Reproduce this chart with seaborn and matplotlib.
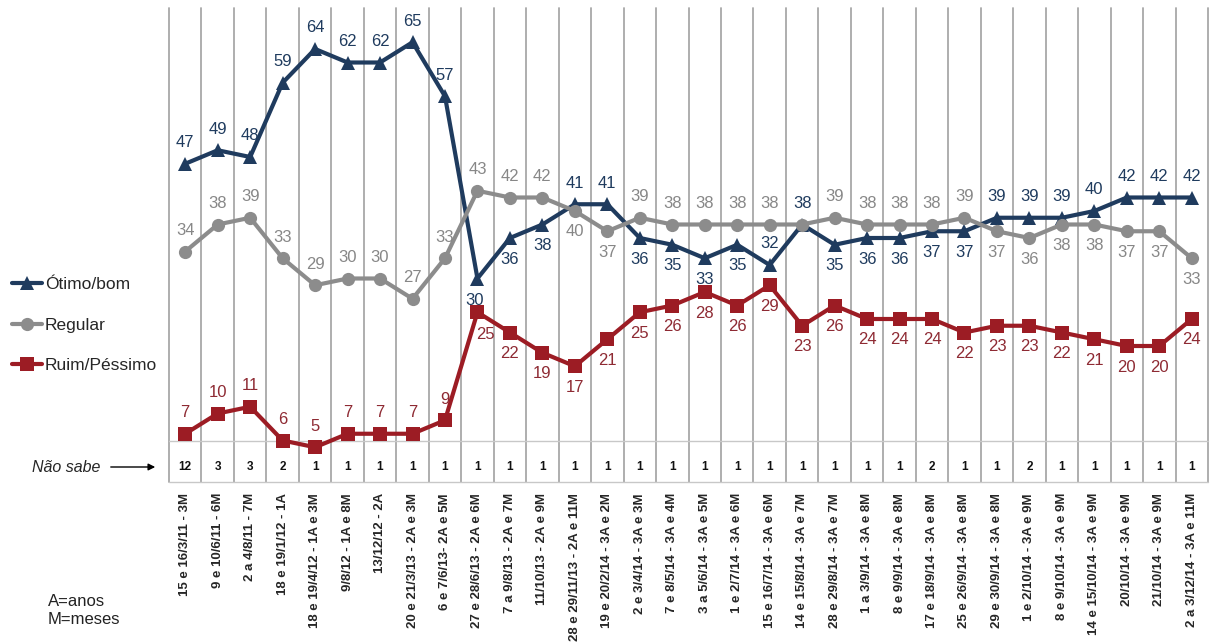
import numpy as np
import pandas as pd
import matplotlib
matplotlib.use("Agg")
import matplotlib.pyplot as plt
import matplotlib.transforms as mtransforms
from matplotlib.lines import Line2D
import seaborn as sns

# ---------------- data ----------------
periodos = [
    "15 e 16/3/11 - 3M", "9 e 10/6/11 - 6M", "2 a 4/8/11 - 7M", "18 e 19/1/12 - 1A",
    "18 e 19/4/12 - 1A e 3M", "9/8/12 - 1A e 8M", "13/12/12 - 2A", "20 e 21/3/13 - 2A e 3M",
    "6 e 7/6/13- 2A e 5M", "27 e 28/6/13 - 2A e 6M", "7 a 9/8/13 - 2A e 7M", "11/10/13 - 2A e 9M",
    "28 e 29/11/13 - 2A e 11M", "19 e 20/2/14 - 3A e 2M", "2 e 3/4/14 - 3A e 3M", "7 e 8/5/14 - 3A e 4M",
    "3 a 5/6/14 - 3A e 5M", "1 e 2/7/14 - 3A e 6M", "15 e 16/7/14 - 3A e 6M", "14 e 15/8/14 - 3A e 7M",
    "28 e 29/8/14 - 3A e 7M", "1 a 3/9/14 - 3A e 8M", "8 e 9/9/14 - 3A e 8M", "17 e 18/9/14 - 3A e 8M",
    "25 e 26/9/14 - 3A e 8M", "29 e 30/9/14 - 3A e 8M", "1 e 2/10/14 - 3A e 9M", "8 e 9/10/14 - 3A e 9M",
    "14 e 15/10/14 - 3A e 9M", "20/10/14 - 3A e 9M", "21/10/14 - 3A e 9M", "2 a 3/12/14 - 3A e 11M",
]
otimo_bom = [47, 49, 48, 59, 64, 62, 62, 65, 57, 30, 36, 38, 41, 41, 36, 35,
             33, 35, 32, 38, 35, 36, 36, 37, 37, 39, 39, 39, 40, 42, 42, 42]
regular = [34, 38, 39, 33, 29, 30, 30, 27, 33, 43, 42, 42, 40, 37, 39, 38,
           38, 38, 38, 38, 39, 38, 38, 38, 39, 37, 36, 38, 38, 37, 37, 33]
ruim_pessimo = [7, 10, 11, 6, 5, 7, 7, 7, 9, 25, 22, 19, 17, 21, 25, 26,
                28, 26, 29, 23, 26, 24, 24, 24, 22, 23, 23, 22, 21, 20, 20, 24]
nao_sabe = [12, 3, 3, 2, 1, 1, 1, 1, 1, 1, 1, 1, 1, 1, 1, 1,
            1, 1, 1, 1, 1, 1, 1, 2, 1, 1, 2, 1, 1, 1, 1, 1]
series_names = ["Ótimo/bom", "Regular", "Ruim/Péssimo"]

# label placement (A = above, B = below, - = none)
place_otimo = "AAAAAAAAABBBAABBBBAABBBBBAAAAAAA"
place_regular = "AAAAAAAAAAAABBAAAAA-AAAAABBBBBBB"
place_ruim = "AAAAAAAAABBBBBBBBBBBBBBBBBBBBBBB"

# ---------------- style ----------------
sns.set_theme(style="white")
plt.rcParams["font.family"] = ["Liberation Sans", "DejaVu Sans"]

W, H = 1210, 642
fig = plt.figure(figsize=(W / 100, H / 100), dpi=100)
ax_top, ax_bot, ax_left, ax_right = 8, 482, 169, 1208
ax = fig.add_axes([ax_left / W, 1 - ax_bot / H, (ax_right - ax_left) / W, (ax_bot - ax_top) / H])

line_colors = {"Ótimo/bom": "#1F3B5E", "Regular": "#8C8C8C", "Ruim/Péssimo": "#9C1C24"}
label_colors = {"Ótimo/bom": "#1F3B5E", "Regular": "#878787", "Ruim/Péssimo": "#8E2A33"}
markers = {"Ótimo/bom": "^", "Regular": "o", "Ruim/Péssimo": "s"}

n = len(periodos)
df = pd.DataFrame({
    "pos": np.tile(np.arange(n), 3),
    "valor": otimo_bom + regular + ruim_pessimo,
    "serie": np.repeat(series_names, n),
})

# vertical grid lines between periods
for b in np.arange(-0.5, n + 0.5, 1.0):
    ax.axvline(b, color="#A8A8A8", lw=1.3, zorder=0, clip_on=False)

sns.lineplot(data=df, x="pos", y="valor", hue="serie", style="serie",
             hue_order=series_names, style_order=series_names,
             markers=markers, dashes=False, palette=line_colors,
             linewidth=3, markersize=9.5, markeredgewidth=0, sort=False, ax=ax, zorder=3)

v_per_px = 6.75
ax.set_xlim(-0.5, n - 0.5)
ax.set_ylim((481 - ax_bot) / v_per_px, (481 - ax_top) / v_per_px)
ax.set_yticks([])
ax.set_ylabel("")
ax.set_xlabel("")
for s in ax.spines.values():
    s.set_visible(False)

# data labels
def put_labels(vals, place, name, special=None):
    special = special or {}
    for i, (v, p) in enumerate(zip(vals, place)):
        if p == "-":
            continue
        dx, dy = special.get(i, (0, 21 if p == "A" else -21))
        ax.annotate(str(v), (i, v), xytext=(dx, dy), textcoords="offset pixels",
                    ha="center", va="center", fontsize=12, color=label_colors[name], zorder=5)

put_labels(otimo_bom, place_otimo, "Ótimo/bom", {9: (-3, -22)})
put_labels(regular, place_regular, "Regular")
put_labels(ruim_pessimo, place_ruim, "Ruim/Péssimo", {9: (8, -22)})

# x tick labels
ax.set_xticks(range(n))
ax.set_xticklabels(periodos, rotation=90, fontsize=9.5, fontweight="bold", va="top", ha="center")
ax.tick_params(axis="x", length=0, pad=8)

# "Não sabe" row
frac = lambda px: (ax_bot - px) / (ax_bot - ax_top)
for yy in (441, 482):
    ax.add_line(Line2D([0, 1], [frac(yy), frac(yy)], transform=ax.transAxes,
                       color="#C8C8C8", lw=1.0, zorder=1, clip_on=False))
trans = mtransforms.blended_transform_factory(ax.transData, ax.transAxes)
for i, v in enumerate(nao_sabe):
    ax.text(i, frac(467), str(v), transform=trans, ha="center", va="center",
            fontsize=8.5, fontweight="bold", color="#111111")

fig.text(32 / W, 1 - 467 / H, "Não sabe", style="italic", fontsize=11.5, ha="left", va="center")
ax.annotate("", xy=(158, H - 467), xytext=(108, H - 467), xycoords="figure pixels",
            textcoords="figure pixels", annotation_clip=False,
            arrowprops=dict(arrowstyle="-|>", color="black", lw=1.0, mutation_scale=10))

fig.text(48 / W, 1 - 602 / H, "A=anos", fontsize=12, ha="left", va="center", color="#222222")
fig.text(48 / W, 1 - 620 / H, "M=meses", fontsize=12, ha="left", va="center", color="#222222")

# legend
handles, labels = ax.get_legend_handles_labels()
if ax.get_legend() is not None:
    ax.get_legend().remove()
fig.legend(handles, labels, loc="center left", bbox_to_anchor=(12 / W, 1 - 325 / H),
           frameon=False, fontsize=12.5, handlelength=1.75, handletextpad=0.15,
           labelspacing=1.45, borderpad=0, borderaxespad=0)

fig.savefig("out.png", dpi=100)
